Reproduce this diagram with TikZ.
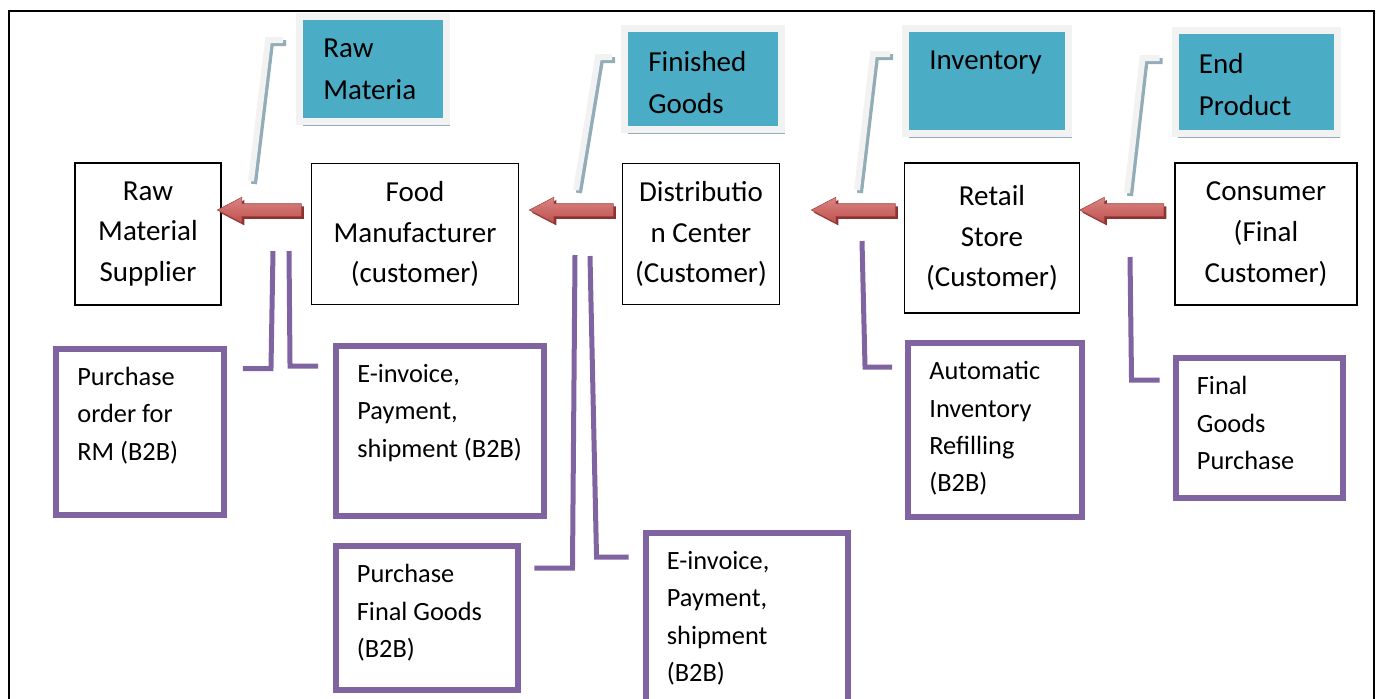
\documentclass[tikz,border=0pt]{standalone}
\usepackage{fontspec}
\setmainfont{Carlito}
\usetikzlibrary{shapes.arrows,shadows}
\definecolor{tealfill}{HTML}{4BACC6}
\definecolor{tealedge}{HTML}{F2F2F2}
\definecolor{tealshade}{HTML}{92ACB8}
\definecolor{flowpurple}{HTML}{8064A2}
\definecolor{flowred}{HTML}{C0504D}
\definecolor{flowredlight}{HTML}{D98683}
\definecolor{flowreddark}{HTML}{8C3230}

\begin{document}
\begin{tikzpicture}[x=0.02cm,y=-0.02cm,
  box/.style={draw,line width=1.1pt,align=center,inner sep=0pt,
    font=\fontsize{16.5}{23.2}\selectfont},
  bluebox/.style={draw=tealedge,line width=0.14cm,fill=tealfill,inner sep=0pt,
    drop shadow={shadow xshift=1.8pt,shadow yshift=-2.4pt,fill=tealshade,opacity=1}},
  bluetext/.style={anchor=north west,align=left,inner sep=0pt,
    font=\fontsize{16.5}{23.8}\selectfont},
  purplebox/.style={draw=flowpurple,line width=0.12cm,inner sep=0pt},
  purpletext/.style={anchor=north west,align=left,inner sep=0pt,
    font=\fontsize{15}{21.3}\selectfont},
  redarrow/.style={single arrow,shape border rotate=180,anchor=tail,
    minimum height=1.68cm,inner xsep=0pt,inner ysep=0.12cm,
    single arrow head extend=0.13cm,single arrow tip angle=55,
    top color=flowredlight,bottom color=flowred,draw=flowred!85!black,line width=0.3pt,
    drop shadow={shadow xshift=1.5pt,shadow yshift=-1.5pt,fill=flowreddark,opacity=1}},
  callout/.style={draw=tealedge,line width=0.12cm,
    preaction={draw=tealshade,line width=0.12cm,transform canvas={xshift=1.7pt,yshift=-1.7pt}}},
  link/.style={draw=flowpurple,line width=0.1cm}]
\useasboundingbox (0,0) rectangle (1379,698);
\draw[line width=1.4pt] (9,720) -- (9,11) -- (1374,11) -- (1374,720);

% the chain
\node[box,minimum width=2.92cm,minimum height=2.84cm] (raw) at (148,234) {Raw\\Material\\Supplier};
\node[box,minimum width=4.14cm,minimum height=2.82cm] (food) at (415,234) {Food\\Manufacturer\\(customer)};
\node[box,minimum width=3.14cm,minimum height=2.82cm] (dist) at (701,234) {Distributio\\n Center\\(Customer)};
\node[box,minimum width=3.5cm,minimum height=3cm] (retail) at (992,238) {Retail\\Store\\(Customer)};
\node[box,minimum width=3.64cm,minimum height=2.84cm] (cons) at (1266,234) {Consumer\\(Final\\Customer)};

\node[redarrow] (a1) at ([shift={(-9,-24)}]food.west) {};
\node[redarrow] (a2) at ([shift={(-8,-24)}]dist.west) {};
\node[redarrow] (a3) at ([shift={(-8,-28)}]retail.west) {};
\node[redarrow] (a4) at ([shift={(-10,-24)}]cons.west) {};

% what flows between them
\node[bluebox,minimum width=2.94cm,minimum height=2.1cm] (rm) at (373,69) {};
\node[bluebox,minimum width=3.14cm,minimum height=2.02cm] (fg) at (703,79) {};
\node[bluebox,minimum width=3.26cm,minimum height=2.1cm] (inv) at (987,81) {};
\node[bluebox,minimum width=3.24cm,minimum height=2.06cm] (ep) at (1256,82) {};
\node[bluetext] at ([shift={(27,26)}]rm.north west) {Raw\\Materia};
\node[bluetext] at ([shift={(27,26)}]fg.north west) {Finished\\Goods};
\node[bluetext] at ([shift={(27,26)}]inv.north west) {Inventory};
\node[bluetext] at ([shift={(27,26)}]ep.north west) {End\\Product};

\coordinate (rmend) at (251,181);
\coordinate (fgend) at (576,190);
\coordinate (invend) at (857,190);
\coordinate (epend) at (1127,193);
\draw[callout] ([shift={(-13,27)}]rm.north west) -- ++(-15,0) -- (rmend);
\draw[callout] ([shift={(-9,32)}]fg.north west) -- ++(-14,0) -- (fgend);
\draw[callout] ([shift={(-12,29)}]inv.north west) -- ++(-17,0) -- (invend);
\draw[callout] ([shift={(-12,31)}]ep.north west) -- ++(-17,0) -- (epend);

% transactions
\node[purplebox,minimum width=3.36cm,minimum height=3.34cm] (po) at (140,432) {};
\node[purplebox,minimum width=4.16cm,minimum height=3.4cm] (ei1) at (440,431) {};
\node[purplebox,minimum width=3.66cm,minimum height=2.88cm] (pfg) at (427,618) {};
\node[purplebox,minimum width=4.06cm,minimum height=4cm] (ei2) at (747,633) {};
\node[purplebox,minimum width=3.48cm,minimum height=3.48cm] (air) at (995,430) {};
\node[purplebox,minimum width=3.34cm,minimum height=2.8cm] (fgp) at (1259,428) {};
\node[purpletext] at ([shift={(24,21)}]po.north west) {Purchase\\order for\\RM (B2B)};
\node[purpletext] at ([shift={(24,21)}]ei1.north west) {E-invoice,\\Payment,\\shipment (B2B)};
\node[purpletext] at ([shift={(24,21)}]pfg.north west) {Purchase\\Final Goods\\(B2B)};
\node[purpletext] at ([shift={(24,21)}]ei2.north west) {E-invoice,\\Payment,\\shipment\\(B2B)};
\node[purpletext] at ([shift={(24,21)}]air.north west) {Automatic\\Inventory\\Refilling\\(B2B)};
\node[purpletext] at ([shift={(24,21)}]fgp.north west) {Final\\Goods\\Purchase};

\coordinate (poend) at (273,251);
\coordinate (ei1end) at (289,251);
\coordinate (pfgend) at (575,255);
\coordinate (ei2end) at (590,256);
\coordinate (airend) at (862,241);
\coordinate (fgpend) at (1130,257);
\draw[link] ([shift={(16,23)}]po.north east) -- ++(28,0) -- (poend);
\draw[link] ([shift={(-15,23)}]ei1.north west) -- ++(-28,0) -- (ei1end);
\draw[link] ([shift={(13,25)}]pfg.north east) -- ++(38,0) -- (pfgend);
\draw[link] ([shift={(-14,27)}]ei2.north west) -- ++(-32,0) -- (ei2end);
\draw[link] ([shift={(-13,27)}]air.north west) -- ++(-27,0) -- (airend);
\draw[link] ([shift={(-13,25)}]fgp.north west) -- ++(-28,0) -- (fgpend);
\end{tikzpicture}
\end{document}
